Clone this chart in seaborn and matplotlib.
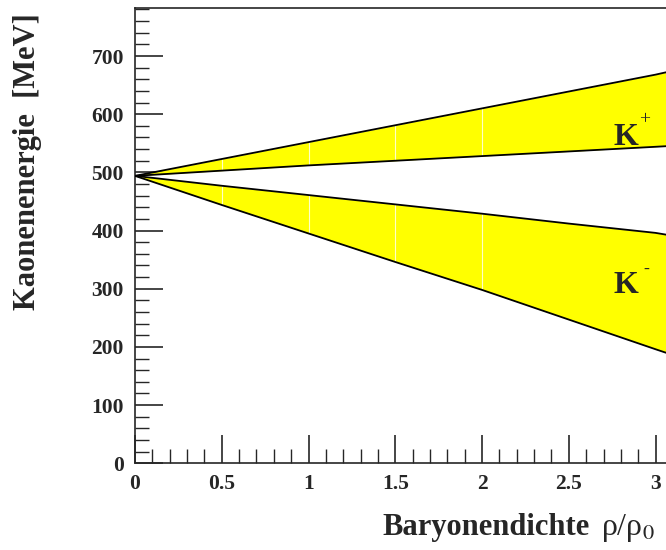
import matplotlib
matplotlib.use("Agg")
import matplotlib.pyplot as plt
import seaborn as sns
import pandas as pd
from matplotlib.ticker import MultipleLocator

# density rho/rho0 and kaon energies [MeV]
dichte = [0, 0.5, 1, 1.5, 2, 2.5, 3, 3.06]
kplus_oben = [494, 523, 552, 581, 610, 639, 668, 672]
kplus_unten = [494, 503, 512, 520, 528, 536, 544, 545]
kminus_oben = [494, 477, 461, 445, 429, 412, 396, 393]
kminus_unten = [494, 444, 395, 346, 298, 247, 196, 190]

x_ticks = [0, 0.5, 1, 1.5, 2, 2.5, 3]
x_ticklabels = ["0", "0.5", "1", "1.5", "2", "2.5", "3"]
y_ticks = [0, 100, 200, 300, 400, 500, 600, 700]
faint_lines = [0.5, 1, 1.5, 2]

df = pd.DataFrame({"rho": dichte, "kp_o": kplus_oben, "kp_u": kplus_unten,
                   "km_o": kminus_oben, "km_u": kminus_unten})

sns.set_style("ticks")
plt.rcParams["font.family"] = ["Liberation Serif", "DejaVu Serif"]
plt.rcParams["mathtext.fontset"] = "stix"

fig = plt.figure(figsize=(6.66, 5.5), dpi=100)
ax = fig.add_axes([135 / 666, 1 - 463.3 / 550, 1 - 135 / 666, (463.3 - 8.3) / 550])

ax.fill_between(df["rho"], df["kp_u"], df["kp_o"], color="#ffff00", lw=0, zorder=1)
ax.fill_between(df["rho"], df["km_u"], df["km_o"], color="#ffff00", lw=0, zorder=1)
# faint light streaks that show only inside the yellow bands
band = df.set_index("rho")
for xv in faint_lines:
    ax.vlines(xv, band.loc[xv, "kp_u"], band.loc[xv, "kp_o"], color="#ffffc8", lw=0.8, zorder=2)
    ax.vlines(xv, band.loc[xv, "km_u"], band.loc[xv, "km_o"], color="#ffffc8", lw=0.8, zorder=2)
for col in ["kp_o", "kp_u", "km_o", "km_u"]:
    sns.lineplot(data=df, x="rho", y=col, ax=ax, color="black", lw=1.3, zorder=3)

ax.set_xlim(0, 3.06)
ax.set_ylim(0, 782)
ax.set_xticks(x_ticks)
ax.set_xticklabels(x_ticklabels)
ax.set_yticks(y_ticks)
ax.xaxis.set_minor_locator(MultipleLocator(0.1))
ax.yaxis.set_minor_locator(MultipleLocator(20))
ax.tick_params(which="major", direction="in", length=20, width=1.2, labelsize=15.5, pad=8)
ax.tick_params(which="minor", direction="in", length=10, width=1.0)
for lab in ax.get_xticklabels() + ax.get_yticklabels():
    lab.set_fontweight("bold")
ax.spines["right"].set_visible(False)
for s in ["left", "bottom", "top"]:
    ax.spines[s].set_linewidth(1.2)
ax.set_xlabel("")
ax.set_ylabel("")

ax.text(2.76, 560, "K", fontsize=23, fontweight="bold", ha="left", va="center")
ax.text(2.935, 590, "+", fontsize=14, ha="center", va="center")
ax.text(2.76, 305, "K", fontsize=23, fontweight="bold", ha="left", va="center")
ax.text(2.945, 334, "-", fontsize=13, ha="center", va="center")

fig.text(590 / 666, 1 - 528 / 550, "Baryonendichte", fontsize=22, fontweight="bold",
         ha="right", va="center")
fig.text(601 / 666, 1 - 528 / 550, "ρ/ρ$_0$", fontsize=23, ha="left", va="center")
fig.text(28 / 666, 1 - 162 / 550, "Kaonenenergie  [MeV]", fontsize=22, fontweight="bold",
         rotation=90, ha="center", va="center")

fig.savefig("out.png", dpi=100)
